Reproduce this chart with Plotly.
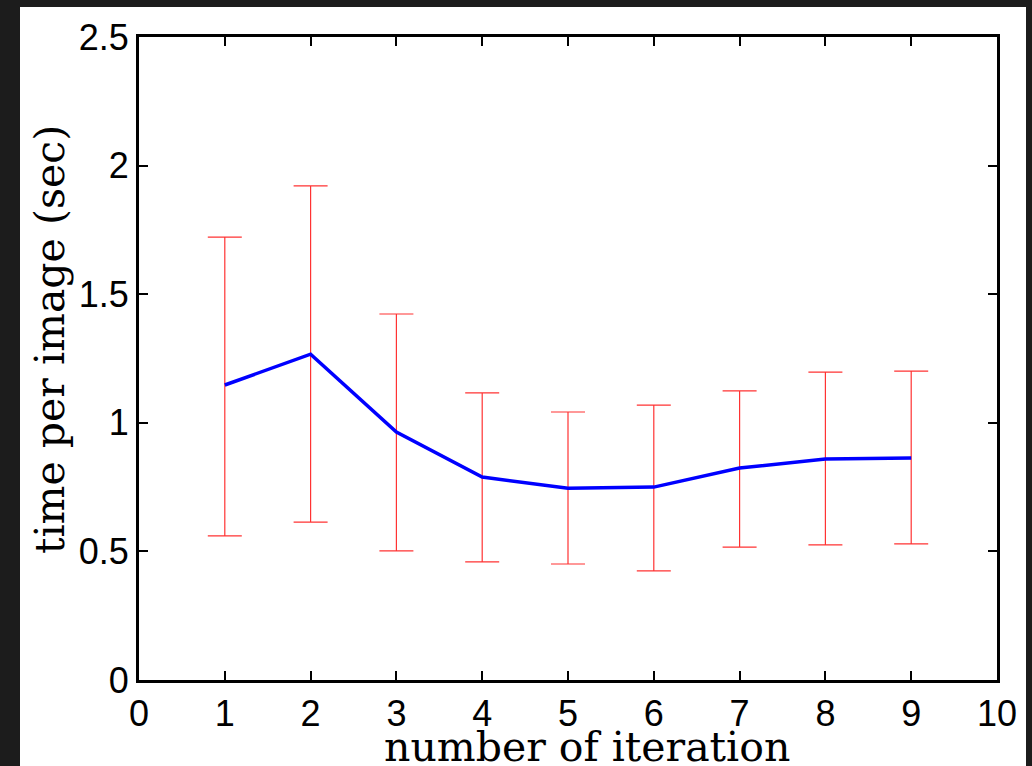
import plotly.graph_objects as go

iterations = [1, 2, 3, 4, 5, 6, 7, 8, 9]
mean_time = [1.147, 1.267, 0.964, 0.789, 0.746, 0.750, 0.824, 0.859, 0.863]
upper = [1.722, 1.921, 1.423, 1.116, 1.042, 1.069, 1.124, 1.197, 1.201]
lower = [0.560, 0.614, 0.502, 0.459, 0.451, 0.424, 0.517, 0.525, 0.529]
x_ticks = [0, 1, 2, 3, 4, 5, 6, 7, 8, 9, 10]
y_ticks = [0, 0.5, 1, 1.5, 2, 2.5]
y_tick_text = ["0", "0.5", "1", "1.5", "2", "2.5"]

err_plus = [u - m for u, m in zip(upper, mean_time)]
err_minus = [m - l for m, l in zip(mean_time, lower)]

W, H = 1032, 766
L, R, T, B = 139, 35, 37, 86
pw, ph = W - L - R, H - T - B

def px_to_paper_x(px):
    return (px - L) / pw

def px_to_paper_y(py):
    return (H - B - py) / ph

fig = go.Figure()
fig.add_trace(go.Scatter(
    x=iterations, y=mean_time, mode="lines",
    line=dict(color="#0000ff", width=3.5),
    error_y=dict(type="data", symmetric=False, array=err_plus, arrayminus=err_minus,
                 color="#ff3333", thickness=1.2, width=17),
    showlegend=False,
))

fig.add_shape(type="rect", xref="paper", yref="paper",
              x0=px_to_paper_x(20), x1=px_to_paper_x(1026),
              y0=px_to_paper_y(770), y1=px_to_paper_y(7),
              fillcolor="white", line=dict(width=0), layer="below")

axis_common = dict(
    showline=True, linecolor="black", linewidth=3, mirror="ticks",
    ticks="inside", ticklen=9, tickwidth=2, tickcolor="black",
    showgrid=False, zeroline=False, automargin=False,
    tickfont=dict(family="Liberation Sans, Arial, sans-serif", size=36, color="black"),
)

fig.update_xaxes(range=[0, 10], tickvals=x_ticks, **axis_common)
fig.update_yaxes(range=[0, 2.5], tickvals=y_ticks, ticktext=y_tick_text, **axis_common)

title_font = dict(family="DejaVu Serif, serif", size=41, color="black")
fig.add_annotation(text="number of iteration", xref="paper", yref="paper",
                   x=px_to_paper_x(587), y=px_to_paper_y(747),
                   xanchor="center", yanchor="middle", showarrow=False, font=title_font)
fig.add_annotation(text="time per image (sec)", xref="paper", yref="paper",
                   x=px_to_paper_x(50), y=px_to_paper_y(340), textangle=-90,
                   xanchor="center", yanchor="middle", showarrow=False, font=title_font)

fig.update_layout(
    width=W, height=H,
    margin=dict(l=L, r=R, t=T, b=B),
    paper_bgcolor="#1c1c1c", plot_bgcolor="white",
)

fig.write_html("out.html", config={"displayModeBar": False},
               post_script="document.body.style.margin='0';document.body.style.background='#1c1c1c';")
